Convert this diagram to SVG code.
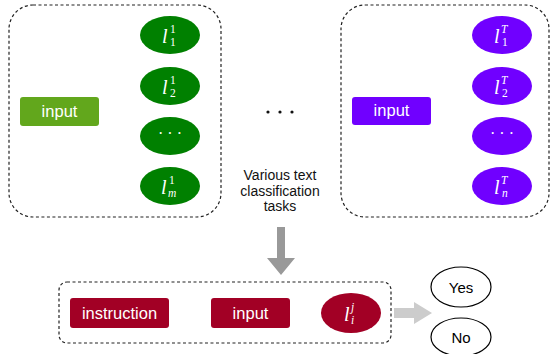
<svg xmlns="http://www.w3.org/2000/svg" width="550" height="354" viewBox="0 0 550 354">
<style>
.box{fill:none;stroke:#222;stroke-width:1.2;stroke-dasharray:3 2.5}
.lbl{font-family:"Liberation Sans",Arial,sans-serif;font-size:16.5px;fill:#fff;text-anchor:middle}
.cap{font-family:"Liberation Sans",Arial,sans-serif;font-size:14px;fill:#111;text-anchor:middle}
.yn{font-family:"Liberation Sans",Arial,sans-serif;font-size:15px;fill:#000;text-anchor:middle}
.m{font-family:"Liberation Serif","DejaVu Serif",serif;fill:#fff}
.l{font-style:italic;font-size:20px}
.s{font-size:11.5px}
.si{font-size:11.5px;font-style:italic}
.g{fill:#008000}
.p{fill:#7000FF}
.r{fill:#A20025}
</style>
<g id="task1">
<rect class="box" x="9" y="5" width="212" height="212" rx="24"/>
<g id="input1"><rect x="20" y="97" width="79" height="29" rx="3" fill="#62A71C"/><text class="lbl" x="59.5" y="116.5">input</text></g>
<g id="l11"><ellipse class="g" cx="170" cy="35" rx="30" ry="19"/><text class="m"><tspan class="l" x="162" y="43">l</tspan><tspan class="s" x="170" y="33">1</tspan><tspan class="s" x="170" y="46">1</tspan></text></g>
<g id="l21"><ellipse class="g" cx="170" cy="86" rx="30" ry="19"/><text class="m"><tspan class="l" x="162" y="94">l</tspan><tspan class="s" x="170" y="84">1</tspan><tspan class="s" x="170" y="97">2</tspan></text></g>
<g id="ldots1"><ellipse class="g" cx="170" cy="136" rx="30" ry="19"/><text class="m" x="170" y="139" font-size="16" text-anchor="middle">· · ·</text></g>
<g id="lm1"><ellipse class="g" cx="170" cy="186" rx="30" ry="19"/><text class="m"><tspan class="l" x="161" y="194">l</tspan><tspan class="s" x="169" y="184">1</tspan><tspan class="si" x="168" y="197">m</tspan></text></g>
</g>
<g id="taskT">
<rect class="box" x="341" y="5" width="208" height="212" rx="24"/>
<g id="inputT"><rect x="352" y="97" width="79" height="28" rx="3" class="p"/><text class="lbl" x="391.5" y="116">input</text></g>
<g id="l1T"><ellipse class="p" cx="502" cy="35" rx="30" ry="19"/><text class="m"><tspan class="l" x="494" y="43">l</tspan><tspan class="si" x="501" y="33">T</tspan><tspan class="s" x="502" y="46">1</tspan></text></g>
<g id="l2T"><ellipse class="p" cx="502" cy="86" rx="30" ry="19"/><text class="m"><tspan class="l" x="494" y="94">l</tspan><tspan class="si" x="501" y="84">T</tspan><tspan class="s" x="502" y="97">2</tspan></text></g>
<g id="ldotsT"><ellipse class="p" cx="502" cy="136" rx="30" ry="19"/><text class="m" x="502" y="139" font-size="16" text-anchor="middle">· · ·</text></g>
<g id="lnT"><ellipse class="p" cx="502" cy="186" rx="30" ry="19"/><text class="m"><tspan class="l" x="494" y="194">l</tspan><tspan class="si" x="501" y="184">T</tspan><tspan class="si" x="502" y="197">n</tspan></text></g>
</g>
<g id="middle">
<circle cx="268" cy="112" r="1.6" fill="#111"/><circle cx="280" cy="112" r="1.6" fill="#111"/><circle cx="292" cy="112" r="1.6" fill="#111"/>
<text class="cap"><tspan x="280" y="180">Various text</tspan><tspan x="280" y="195.5">classification</tspan><tspan x="280" y="211">tasks</tspan></text>
</g>
<g id="connectors">
<polygon points="277,227 285,227 285,258 295,258 281,275 267,258 277,258" fill="#999"/>
<polygon points="394,308 414,308 414,302 432,313 414,324 414,318 394,318" fill="#ccc"/>
</g>
<g id="prompt">
<rect class="box" x="59" y="282" width="332" height="61" rx="8"/>
<g id="instruction"><rect x="70" y="298" width="99" height="30" rx="3" class="r"/><text class="lbl" x="119.5" y="318.5">instruction</text></g>
<g id="input3"><rect x="211" y="298" width="79" height="30" rx="3" class="r"/><text class="lbl" x="250.5" y="318.5">input</text></g>
<g id="lij"><ellipse class="r" cx="351" cy="313" rx="30" ry="20"/><text class="m"><tspan class="l" x="344" y="321">l</tspan><tspan class="si" x="351" y="311">j</tspan><tspan class="si" x="351" y="324">i</tspan></text></g>
</g>
<g id="yes"><ellipse cx="461" cy="287" rx="30" ry="20" fill="#fff" stroke="#000" stroke-width="1.2"/><text class="yn" x="461" y="292.5">Yes</text></g>
<g id="no"><ellipse cx="461" cy="337" rx="30" ry="19" fill="#fff" stroke="#000" stroke-width="1.2"/><text class="yn" x="461" y="342.5">No</text></g>
</svg>
